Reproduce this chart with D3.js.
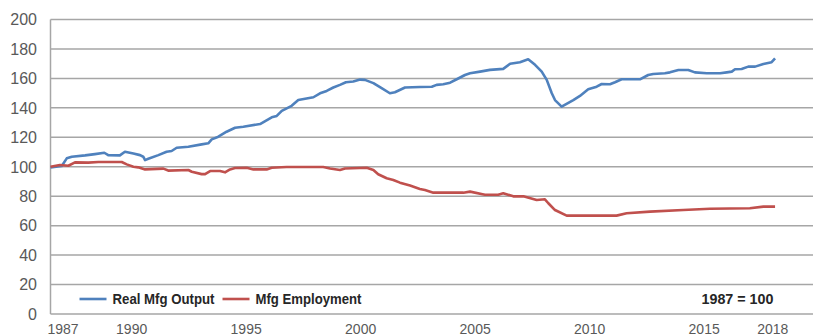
<!DOCTYPE html>
<html>
<head>
<meta charset="utf-8">
<script src="https://cdn.jsdelivr.net/npm/d3@7"></script>
<style>
  body { margin: 0; background: #fff; }
  .tick-label { fill: #595959; font-family: "Liberation Sans", Arial, sans-serif; }
  .legend-text { fill: #262626; font-family: "Liberation Sans", Arial, sans-serif; font-weight: bold; }
</style>
</head>
<body>
<svg id="chart"></svg>
<script>
// Real manufacturing output, index 1987 = 100 (years as decimals)
const outputYears = [1987.00, 1987.49, 1987.71, 1987.93, 1988.51, 1988.94, 1989.35, 1989.52, 1990.03, 1990.25,
  1990.62, 1990.91, 1991.05, 1991.13, 1991.27, 1991.71, 1992.07, 1992.29, 1992.51, 1993.02,
  1993.60, 1993.89, 1994.04, 1994.33, 1994.69, 1995.06, 1995.42, 1996.15, 1996.66, 1996.88,
  1997.10, 1997.53, 1997.82, 1998.48, 1998.77, 1999.06, 1999.35, 1999.64, 1999.90, 2000.22,
  2000.52, 2000.73, 2001.10, 2001.46, 2001.82, 2002.04, 2002.48, 2003.13, 2003.65, 2003.86,
  2004.15, 2004.45, 2004.74, 2005.10, 2005.32, 2005.76, 2006.19, 2006.77, 2007.07, 2007.50,
  2007.86, 2008.16, 2008.45, 2008.67, 2008.89, 2009.03, 2009.32, 2009.83, 2010.12, 2010.48,
  2010.85, 2011.07, 2011.43, 2011.65, 2011.94, 2012.74, 2013.10, 2013.32, 2013.83, 2014.05,
  2014.42, 2014.85, 2015.14, 2015.66, 2016.24, 2016.53, 2016.75, 2016.89, 2017.18, 2017.47,
  2017.77, 2018.13, 2018.49, 2018.64];
const outputValues = [99.5, 100.5, 105.7, 106.8, 107.7, 108.6, 109.5, 107.9, 107.7, 110.2,
  109.0, 107.9, 106.8, 104.5, 105.4, 107.9, 110.2, 110.7, 112.9, 113.6,
  115.2, 115.9, 118.6, 120.4, 123.8, 126.5, 127.2, 129.0, 133.6, 134.5,
  137.9, 141.4, 145.3, 147.2, 149.9, 151.5, 153.8, 155.6, 157.4, 157.9,
  159.2, 159.0, 156.8, 153.4, 149.9, 150.6, 153.8, 154.2, 154.3, 155.6,
  156.0, 157.1, 159.4, 162.3, 163.5, 164.6, 165.8, 166.5, 169.9, 171.0,
  173.0, 169.2, 164.6, 159.0, 149.9, 145.3, 140.8, 145.3, 148.1, 152.6,
  154.4, 156.2, 156.0, 157.4, 159.4, 159.4, 162.3, 163.0, 163.5, 164.1,
  165.7, 165.7, 164.1, 163.5, 163.5, 164.1, 164.6, 166.2, 166.4, 168.0,
  168.0, 169.8, 171.0, 173.6];

// Manufacturing employment, index 1987 = 100
const employmentYears = [1987.00, 1987.41, 1987.78, 1988.07, 1988.65, 1989.09, 1990.11, 1990.33, 1990.62, 1990.83,
  1991.13, 1991.93, 1992.14, 1993.02, 1993.17, 1993.60, 1993.75, 1993.97, 1994.40, 1994.62,
  1994.84, 1995.06, 1995.57, 1995.86, 1996.44, 1996.66, 1997.31, 1998.91, 1999.21, 1999.64,
  1999.86, 2000.81, 2001.10, 2001.31, 2001.68, 2001.97, 2002.26, 2002.70, 2003.13, 2003.35,
  2003.72, 2005.03, 2005.32, 2005.97, 2006.55, 2006.77, 2007.21, 2007.65, 2008.23, 2008.59,
  2008.74, 2009.03, 2009.54, 2011.72, 2012.16, 2013.18, 2014.63, 2015.80, 2017.54, 2018.13,
  2018.64];
const employmentValues = [100.0, 101.2, 100.7, 103.0, 102.8, 103.2, 103.2, 101.6, 100.0, 99.6,
  98.2, 98.7, 97.4, 97.8, 96.6, 95.0, 95.0, 97.1, 97.1, 96.2,
  98.2, 99.1, 99.3, 98.2, 98.2, 99.3, 99.8, 99.8, 98.8, 97.8,
  98.8, 99.3, 97.8, 94.9, 92.2, 91.0, 89.2, 87.2, 84.9, 84.2,
  82.4, 82.4, 83.1, 81.0, 81.0, 82.0, 79.9, 79.9, 77.4, 77.9,
  75.2, 70.6, 66.8, 66.8, 68.4, 69.5, 70.6, 71.5, 71.8, 72.9,
  72.9];

const xTickYears = [1987, 1990, 1995, 2000, 2005, 2010, 2015, 2018];
const yTicks = [0, 20, 40, 60, 80, 100, 120, 140, 160, 180, 200];
const seriesNames = ['Real Mfg Output', 'Mfg Employment'];
const seriesColors = ['#4f81bd', '#c0504d'];
const baseNote = '1987 = 100';

class IndexChart {

  constructor(_config) {
    this.config = {
      parentElement: _config.parentElement,
      containerWidth: _config.containerWidth || 820,
      containerHeight: _config.containerHeight || 335,
      margin: _config.margin || { top: 19.5, right: 7, bottom: 21, left: 50.5 }
    };
    this.series = [
      outputYears.map((y, i) => ({ year: y, value: outputValues[i] })),
      employmentYears.map((y, i) => ({ year: y, value: employmentValues[i] }))
    ];
    this.initVis();
  }

  initVis() {
    let vis = this;

    vis.width = vis.config.containerWidth - vis.config.margin.left - vis.config.margin.right;
    vis.height = vis.config.containerHeight - vis.config.margin.top - vis.config.margin.bottom;

    vis.xScale = d3.scaleLinear()
      .domain([1987, 1987 + vis.width / 22.9])
      .range([0, vis.width]);

    vis.yScale = d3.scaleLinear()
      .domain([0, 200])
      .range([vis.height, 0]);

    vis.svg = d3.select(vis.config.parentElement)
      .attr('width', vis.config.containerWidth)
      .attr('height', vis.config.containerHeight);

    vis.chart = vis.svg.append('g')
      .attr('transform', `translate(${vis.config.margin.left},${vis.config.margin.top})`);

    vis.renderVis();
  }

  renderVis() {
    let vis = this;

    // horizontal gridlines
    vis.chart.append('g')
      .selectAll('line')
      .data(yTicks.filter(d => d > 0))
      .join('line')
      .attr('x1', 0)
      .attr('x2', vis.width)
      .attr('y1', d => vis.yScale(d))
      .attr('y2', d => vis.yScale(d))
      .attr('stroke', '#a6a6a6')
      .attr('stroke-width', 1.5);

    // axis lines
    vis.chart.append('line')
      .attr('x1', 0).attr('x2', 0)
      .attr('y1', 0).attr('y2', vis.height)
      .attr('stroke', '#a6a6a6').attr('stroke-width', 1.5);
    vis.chart.append('line')
      .attr('x1', 0).attr('x2', vis.width)
      .attr('y1', vis.height).attr('y2', vis.height)
      .attr('stroke', '#a6a6a6').attr('stroke-width', 1.5);

    // y labels
    vis.chart.append('g')
      .selectAll('text')
      .data(yTicks)
      .join('text')
      .attr('class', 'tick-label')
      .attr('x', -13.5)
      .attr('y', d => vis.yScale(d))
      .attr('dy', '0.36em')
      .attr('text-anchor', 'end')
      .style('font-size', '16px')
      .text(d => d);

    // x labels sit in the middle of each year
    vis.chart.append('g')
      .selectAll('text')
      .data(xTickYears)
      .join('text')
      .attr('class', 'tick-label')
      .attr('x', d => vis.xScale(d + 0.5) + 1)
      .attr('y', vis.height + 19.5)
      .attr('text-anchor', 'middle')
      .style('font-size', '14px')
      .text(d => d);

    vis.line = d3.line()
      .x(d => vis.xScale(d.year))
      .y(d => vis.yScale(d.value));

    vis.chart.append('g')
      .selectAll('path')
      .data(vis.series)
      .join('path')
      .attr('fill', 'none')
      .attr('stroke', (d, i) => seriesColors[i])
      .attr('stroke-width', 2.6)
      .attr('stroke-linejoin', 'round')
      .attr('d', vis.line);

    // legend inside the plot, bottom left
    const legendX = [29, 172];
    const legendW = [102, 106];
    const legend = vis.chart.append('g')
      .attr('transform', `translate(0,${vis.height - 15})`);
    seriesNames.forEach((name, i) => {
      legend.append('line')
        .attr('x1', legendX[i]).attr('x2', legendX[i] + 27)
        .attr('stroke', seriesColors[i])
        .attr('stroke-width', 2.6);
      legend.append('text')
        .attr('class', 'legend-text')
        .attr('x', legendX[i] + 33)
        .attr('dy', '0.36em')
        .attr('textLength', legendW[i])
        .attr('lengthAdjust', 'spacingAndGlyphs')
        .style('font-size', '14px')
        .text(name);
    });

    legend.append('text')
      .attr('class', 'legend-text')
      .attr('x', 651)
      .attr('dy', '0.36em')
      .attr('textLength', 72)
      .attr('lengthAdjust', 'spacingAndGlyphs')
      .style('font-size', '14px')
      .text(baseNote);
  }
}

new IndexChart({ parentElement: '#chart' });
</script>
</body>
</html>
